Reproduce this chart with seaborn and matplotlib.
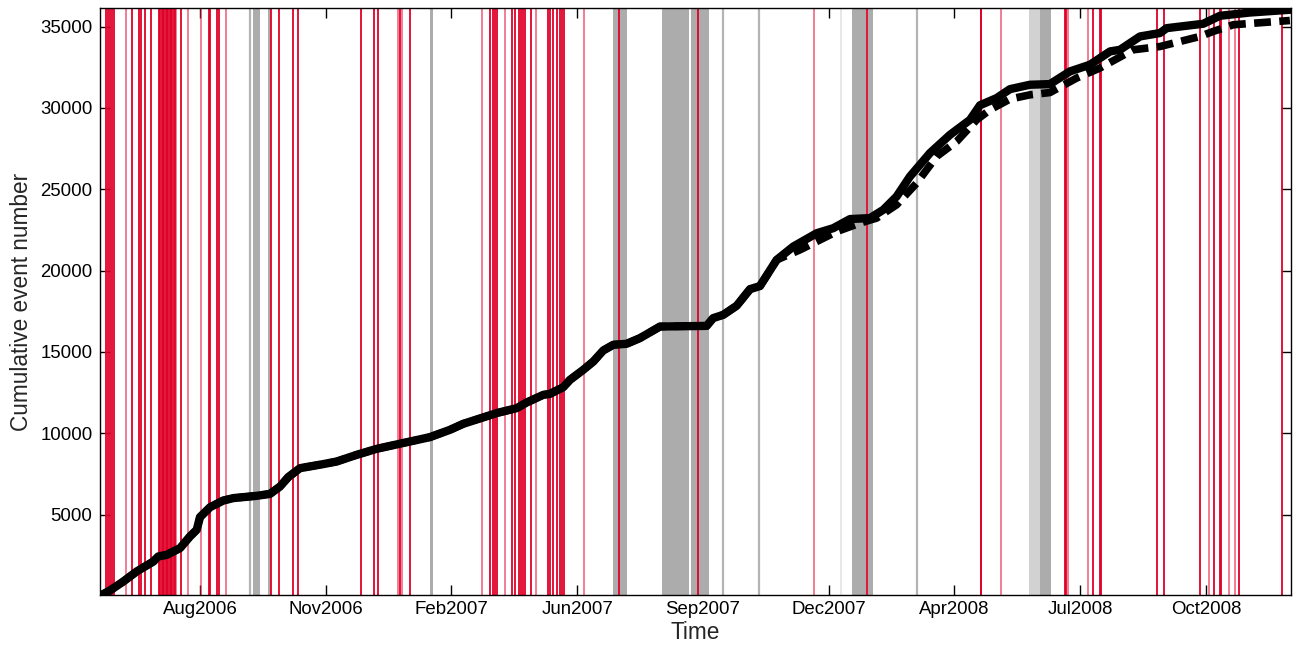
import pandas as pd
import matplotlib
matplotlib.use('Agg')
import matplotlib.pyplot as plt
import seaborn as sns

# all times are days after 2006-05-01
origin = pd.Timestamp('2006-05-01')

# cumulative event count (solid = all events)
days_solid = [22.5, 30.4, 41.0, 51.7, 64.9, 68.8, 75.5, 86.1, 94.0, 99.4, 102.0,
              110.0, 120.5, 128.5, 147.1, 157.7, 165.6, 172.2, 181.5, 200.0, 210.7,
              226.6, 242.5, 269.0, 284.9, 300.8, 311.4, 338.0, 353.8, 361.8, 375.0,
              380.3, 390.9, 396.2, 406.8, 414.8, 422.7, 430.7, 441.3, 451.9, 467.8,
              504.9, 510.1, 518.1, 528.8, 539.4, 547.3, 560.6, 573.8, 592.4, 605.6,
              618.9, 634.8, 645.4, 656.0, 666.6, 682.5, 698.4, 714.3, 722.3, 735.5,
              746.1, 762.0, 777.9, 793.8, 809.7, 825.7, 833.6, 849.5, 865.4, 870.7,
              899.8, 913.1, 936.9, 968.7]
count_solid = [0, 330, 880, 1500, 2110, 2420, 2520, 2930, 3650, 4060, 4840,
               5450, 5860, 6010, 6150, 6270, 6720, 7300, 7850, 8100, 8260,
               8670, 9040, 9490, 9760, 10210, 10580, 11240, 11540, 11890, 12360,
               12420, 12830, 13280, 13900, 14410, 15090, 15440, 15500, 15850, 16560,
               16600, 17080, 17280, 17840, 18860, 19050, 20660, 21480, 22300, 22610,
               23170, 23230, 23740, 24560, 25790, 27230, 28350, 29270, 30170, 30610,
               31160, 31430, 31470, 32250, 32660, 33480, 33580, 34400, 34610, 34910,
               35180, 35670, 35870, 36040]

# cumulative count (dashed), equal to the solid one until early 2008
days_dashed = [22.5, 30.4, 41.0, 51.7, 64.9, 68.8, 75.5, 86.1, 94.0, 99.4, 102.0,
               110.0, 120.5, 128.5, 147.1, 157.7, 165.6, 172.2, 181.5, 200.0, 210.7,
               226.6, 242.5, 269.0, 284.9, 300.8, 311.4, 338.0, 353.8, 361.8, 375.0,
               380.3, 390.9, 396.2, 406.8, 414.8, 422.7, 430.7, 441.3, 451.9, 467.8,
               504.9, 510.1, 518.1, 528.8, 539.4, 547.3, 560.6, 579.2, 608.3, 626.8,
               640.1, 656.0, 671.9, 687.8, 703.7, 719.6, 730.2, 746.1, 762.0, 777.9,
               799.1, 817.7, 844.1, 865.4, 897.2, 907.8, 923.7, 968.7]
count_dashed = [0, 330, 880, 1500, 2110, 2420, 2520, 2930, 3650, 4060, 4840,
                5450, 5860, 6010, 6150, 6270, 6720, 7300, 7850, 8100, 8260,
                8670, 9040, 9490, 9760, 10210, 10580, 11240, 11540, 11890, 12360,
                12420, 12830, 13280, 13900, 14410, 15090, 15440, 15500, 15850, 16560,
                16600, 17080, 17280, 17840, 18860, 19050, 20660, 21280, 22400, 22920,
                23230, 24050, 25380, 27020, 27940, 29270, 29890, 30550, 30810, 30950,
                31840, 32460, 33580, 33780, 34400, 34710, 35120, 35380]

# red event markers
red_strong = [27.6, 29.2, 30.8, 32.4, 33.6, 47.9, 53.5, 54.7, 58.3, 63.0,
              69.4, 70.4, 71.5, 72.6, 73.6, 74.7, 75.8, 76.8, 77.9, 78.9, 80.0,
              81.1, 82.1, 86.9, 108.8, 110.3, 115.9, 117.1, 158.2, 165.1, 175.6,
              180.1, 230.0, 240.6, 243.9, 261.0, 269.2, 333.0, 335.2, 336.6, 337.9,
              350.5, 352.9, 355.3, 357.3, 358.9, 360.4, 365.2, 378.5, 380.6, 382.9,
              386.3, 387.9, 389.5, 391.1, 435.0, 497.8, 632.6, 722.7, 723.4, 789.7,
              790.9, 812.4, 817.4, 818.5, 863.2, 868.8, 897.2, 908.3, 913.5, 914.3,
              928.2, 962.2]
red_light = [43.2, 83.3, 92.1, 103.2, 122.3, 259.8, 262.4, 326.6, 344.4, 369.2,
             407.4, 589.9, 739.0, 792.6, 808.1, 904.4, 920.5, 925.0]

# grey periods
band_start = [144.4, 155.7, 284.9, 430.7, 469.1, 492.2, 620.2, 633.2, 770.0]
band_end = [150.1, 158.1, 287.5, 441.8, 490.9, 506.8, 632.0, 637.4, 778.7]
pale_start = [761.6]
pale_end = [770.0]
gray_lines = [141.4, 518.3, 546.5, 671.9]
faint_lines = [611.7]

tick_labels = ['Aug2006', 'Nov2006', 'Feb2007', 'Jun2007', 'Sep2007',
               'Dec2007', 'Apr2008', 'Jul2008', 'Oct2008']


def to_date(d):
    return origin + pd.to_timedelta(pd.Series(d, dtype=float), unit='D')


sns.set_theme(style='ticks')
plt.rcParams['font.family'] = ['Liberation Sans', 'DejaVu Sans']

fig = plt.figure(figsize=(12.94, 6.47), dpi=100)
ax = fig.add_axes([0.0769, 0.0811, 0.9204, 0.9058])

for s, e in zip(to_date(band_start), to_date(band_end)):
    ax.axvspan(s, e, color='#acacac', lw=0, zorder=1)
for s, e in zip(to_date(pale_start), to_date(pale_end)):
    ax.axvspan(s, e, color='#d2d2d2', lw=0, zorder=1)
ax.vlines(to_date(gray_lines), 0, 1, transform=ax.get_xaxis_transform(),
          color='#b4b4b4', lw=1.6, zorder=1)
ax.vlines(to_date(faint_lines), 0, 1, transform=ax.get_xaxis_transform(),
          color='#e4e4e4', lw=1.2, zorder=1)

ax.vlines(to_date(red_light), 0, 1, transform=ax.get_xaxis_transform(),
          color='#e8173f', alpha=0.6, lw=1.3, zorder=2)
ax.vlines(to_date(red_strong), 0, 1, transform=ax.get_xaxis_transform(),
          color='#df0028', lw=1.3, zorder=2)

solid = pd.DataFrame({'time': to_date(days_solid), 'count': count_solid})
dashed = pd.DataFrame({'time': to_date(days_dashed), 'count': count_dashed})
sns.lineplot(data=dashed, x='time', y='count', ax=ax, color='black', lw=5.5,
             sort=False, estimator=None, zorder=3,
             linestyle=(0, (2.2, 1.1)))
sns.lineplot(data=solid, x='time', y='count', ax=ax, color='black', lw=6,
             sort=False, estimator=None, zorder=4)

ticks = to_date([102 + 100 * k for k in range(len(tick_labels))])
ax.set_xticks(ticks)
ax.set_xticklabels(tick_labels)
ax.set_yticks(range(5000, 35001, 5000))
ax.set_xlim(to_date([22.1])[0], to_date([969.2])[0])
ax.set_ylim(80, 36120)

ax.tick_params(direction='in', length=7, width=1, labelsize=13.4, colors='black',
               top=True, right=True, pad=5)
for sp in ax.spines.values():
    sp.set_visible(True)
    sp.set_color('black')
    sp.set_linewidth(1)
    sp.set_zorder(5)

ax.set_xlabel('Time', fontsize=16.3, labelpad=2)
ax.set_ylabel('Cumulative event number', fontsize=16.3, labelpad=5)

fig.savefig('out.png', dpi=100)
